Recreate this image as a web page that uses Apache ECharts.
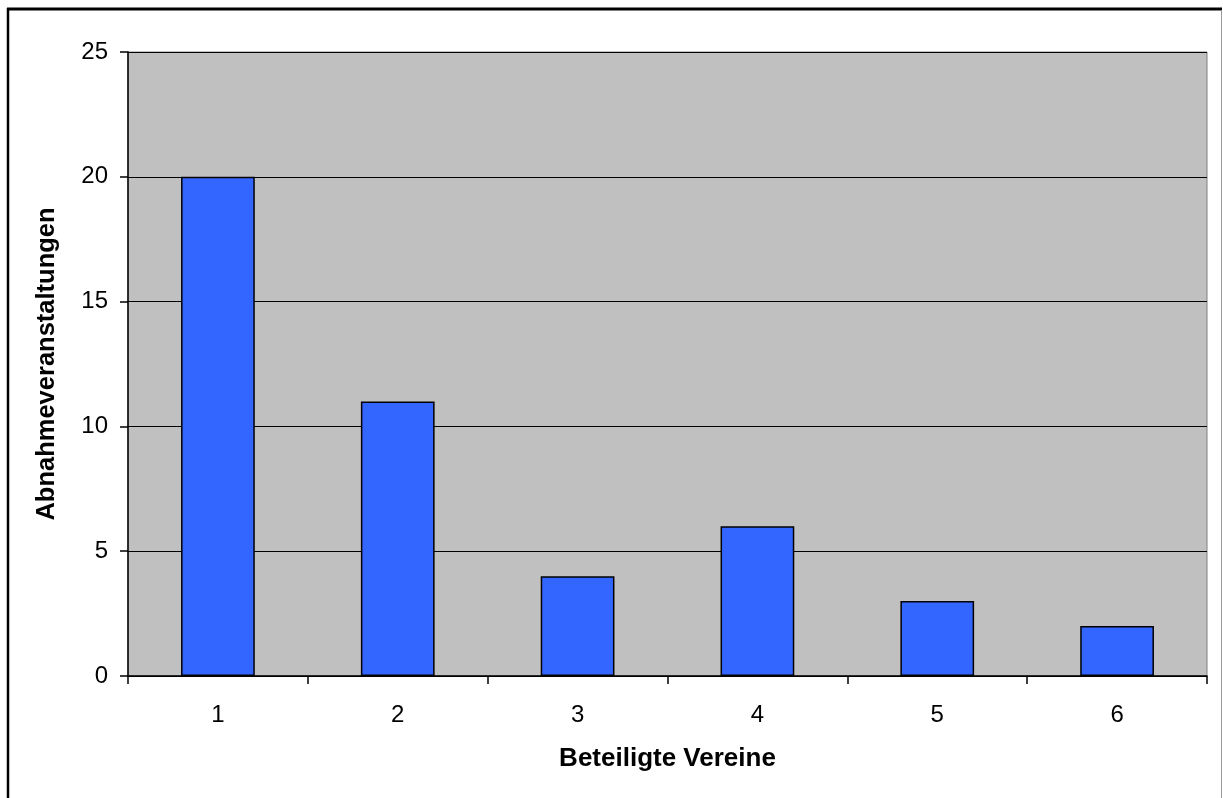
<!DOCTYPE html>
<html>
<head>
<meta charset="utf-8">
<script src="https://cdn.jsdelivr.net/npm/echarts@6/dist/echarts.min.js"></script>
<style>
html,body{margin:0;padding:0;background:#fff;}
#c{width:1223px;height:798px;}
</style>
</head>
<body>
<div id="c"></div>
<script>
const categories = ['1','2','3','4','5','6'];
const values = [20, 11, 4, 6, 3, 2];
const yTicks = [0, 5, 10, 15, 20, 25];

const chart = echarts.init(document.getElementById('c'));
const font = 'Liberation Sans, Arial, sans-serif';
chart.setOption({
  animation: false,
  backgroundColor: '#fff',
  grid: {left: 128, top: 52, right: 16, bottom: 122, show: true, backgroundColor: '#c0c0c0', borderColor: '#808080', borderWidth: 1},
  xAxis: {
    type: 'category',
    data: categories,
    name: 'Beteiligte Vereine',
    nameLocation: 'middle',
    nameGap: 70,
    nameTextStyle: {fontFamily: font, fontSize: 26, fontWeight: 'bold', color: '#000'},
    axisLine: {lineStyle: {color: '#000', width: 1.5}},
    axisTick: {show: true, alignWithLabel: false, length: 8, lineStyle: {color: '#000', width: 1.5}},
    axisLabel: {fontFamily: font, fontSize: 24, color: '#000', margin: 27},
    splitLine: {show: false}
  },
  yAxis: {
    type: 'value',
    min: yTicks[0], max: yTicks[yTicks.length-1], interval: 5,
    name: 'Abnahmeveranstaltungen',
    nameLocation: 'middle',
    nameGap: 68,
    nameTextStyle: {fontFamily: font, fontSize: 25.5, fontWeight: 'bold', color: '#000'},
    axisLine: {show: true, lineStyle: {color: '#000', width: 1.5}},
    axisTick: {show: true, length: 8, lineStyle: {color: '#000', width: 1.5}},
    axisLabel: {fontFamily: font, fontSize: 24, color: '#000', margin: 20},
    splitLine: {show: true, lineStyle: {color: '#000', width: 1.2}}
  },
  series: [{
    type: 'bar',
    data: values,
    barCategoryGap: '59%',
    itemStyle: {color: '#3366ff', borderColor: '#000', borderWidth: 1.5}
  }],
  graphic: [
    {type: 'line', shape: {x1: 7, y1: 9, x2: 1222, y2: 9}, style: {stroke: '#000', lineWidth: 3}},
    {type: 'line', shape: {x1: 8, y1: 8, x2: 8, y2: 798}, style: {stroke: '#000', lineWidth: 2.5}},
    {type: 'line', shape: {x1: 1221.5, y1: 10, x2: 1221.5, y2: 798}, style: {stroke: '#999', lineWidth: 1}}
  ]
});
</script>
</body>
</html>
